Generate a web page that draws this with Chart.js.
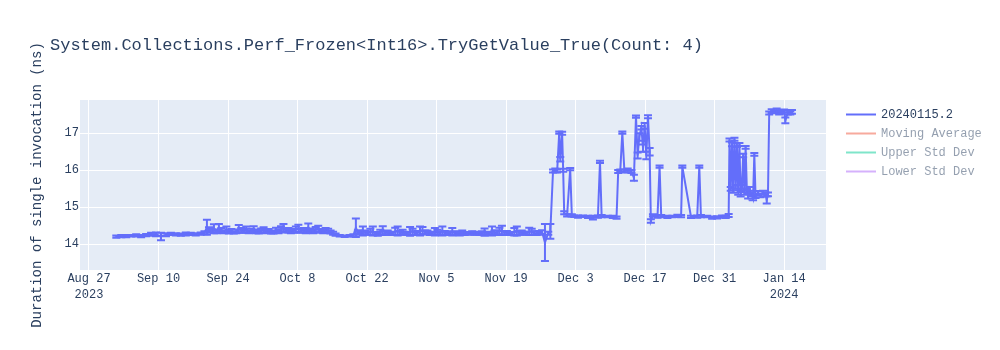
<!DOCTYPE html>
<html>
<head>
<meta charset="utf-8">
<script src="https://cdn.jsdelivr.net/npm/chart.js@4.4.1/dist/chart.umd.min.js"></script>
<style>
  html, body { margin: 0; padding: 0; background: #ffffff; }
  canvas { display: block; }
</style>
</head>
<body>
<canvas id="perfChart" width="1000" height="350"></canvas>
<script>
// ---- chart text ----
const chartTitle = 'System.Collections.Perf_Frozen<Int16>.TryGetValue_True(Count: 4)';
const yAxisTitle = 'Duration of single invocation (ns)';
const seriesNames = ['20240115.2', 'Moving Average', 'Upper Std Dev', 'Lower Std Dev'];
const seriesColors = ['#636efa', '#ef553b', '#00cc96', '#ab63fa'];

// ---- measurements: run time, mean duration (ns), error (ns) ----
const runDates = [
  // Sep 1 - Sep 19
  '2023-09-01T12:00','2023-09-02T12:00','2023-09-03T12:00','2023-09-04T12:00','2023-09-05T12:00',
  '2023-09-06T12:00','2023-09-07T12:00','2023-09-08T12:00','2023-09-09T12:00','2023-09-10T12:00',
  '2023-09-11T12:00','2023-09-12T12:00','2023-09-13T12:00','2023-09-14T12:00','2023-09-15T12:00',
  '2023-09-16T12:00','2023-09-17T12:00','2023-09-18T12:00','2023-09-19T06:00','2023-09-19T18:00',
  // Sep 20 - Oct 15
  '2023-09-20T04:00','2023-09-20T16:00','2023-09-21T04:00','2023-09-21T16:00','2023-09-22T04:00',
  '2023-09-22T16:00','2023-09-23T04:00','2023-09-23T16:00','2023-09-24T04:00','2023-09-24T16:00',
  '2023-09-25T04:00','2023-09-25T16:00','2023-09-26T04:00','2023-09-26T16:00','2023-09-27T04:00',
  '2023-09-27T16:00','2023-09-28T04:00','2023-09-28T16:00','2023-09-29T04:00','2023-09-29T16:00',
  '2023-09-30T04:00','2023-09-30T16:00','2023-10-01T04:00','2023-10-01T16:00','2023-10-02T04:00',
  '2023-10-02T16:00','2023-10-03T04:00','2023-10-03T16:00','2023-10-04T04:00','2023-10-04T16:00',
  '2023-10-05T04:00','2023-10-05T16:00','2023-10-06T04:00','2023-10-06T16:00','2023-10-07T04:00',
  '2023-10-07T16:00','2023-10-08T04:00','2023-10-08T16:00','2023-10-09T04:00','2023-10-09T16:00',
  '2023-10-10T04:00','2023-10-10T16:00','2023-10-11T04:00','2023-10-11T16:00','2023-10-12T04:00',
  '2023-10-12T16:00','2023-10-13T04:00','2023-10-13T16:00','2023-10-14T04:00','2023-10-14T16:00',
  '2023-10-15T04:00','2023-10-15T16:00',
  // Oct 16 - Oct 19
  '2023-10-16T12:00','2023-10-17T12:00','2023-10-18T12:00','2023-10-19T06:00','2023-10-19T18:00',
  // Oct 20 - Nov 25
  '2023-10-20T04:00','2023-10-20T16:00','2023-10-21T04:00','2023-10-21T16:00','2023-10-22T04:00',
  '2023-10-22T16:00','2023-10-23T04:00','2023-10-23T16:00','2023-10-24T04:00','2023-10-24T16:00',
  '2023-10-25T04:00','2023-10-25T16:00','2023-10-26T04:00','2023-10-26T16:00','2023-10-27T04:00',
  '2023-10-27T16:00','2023-10-28T04:00','2023-10-28T16:00','2023-10-29T04:00','2023-10-29T16:00',
  '2023-10-30T04:00','2023-10-30T16:00','2023-10-31T04:00','2023-10-31T16:00','2023-11-01T04:00',
  '2023-11-01T16:00','2023-11-02T04:00','2023-11-02T16:00','2023-11-03T04:00','2023-11-03T16:00',
  '2023-11-04T04:00','2023-11-04T16:00','2023-11-05T04:00','2023-11-05T16:00','2023-11-06T04:00',
  '2023-11-06T16:00','2023-11-07T04:00','2023-11-07T16:00','2023-11-08T04:00','2023-11-08T16:00',
  '2023-11-09T04:00','2023-11-09T16:00','2023-11-10T04:00','2023-11-10T16:00','2023-11-11T04:00',
  '2023-11-11T16:00','2023-11-12T04:00','2023-11-12T16:00','2023-11-13T04:00','2023-11-13T16:00',
  '2023-11-14T04:00','2023-11-14T16:00','2023-11-15T04:00','2023-11-15T16:00','2023-11-16T04:00',
  '2023-11-16T16:00','2023-11-17T04:00','2023-11-17T16:00','2023-11-18T04:00','2023-11-18T16:00',
  '2023-11-19T04:00','2023-11-19T16:00','2023-11-20T04:00','2023-11-20T16:00','2023-11-21T04:00',
  '2023-11-21T16:00','2023-11-22T04:00','2023-11-22T16:00','2023-11-23T04:00','2023-11-23T16:00',
  '2023-11-24T04:00','2023-11-24T16:00','2023-11-25T04:00','2023-11-25T16:00',
  // Nov 26 - Jan 15
  '2023-11-26T06:00','2023-11-26T20:00','2023-11-27T12:00','2023-11-27T22:00',
  '2023-11-28T11:00','2023-11-28T22:00','2023-11-29T07:00','2023-11-29T17:00','2023-11-29T22:00',
  '2023-11-30T07:00','2023-11-30T12:00','2023-11-30T17:00','2023-12-01T07:00','2023-12-01T22:00',
  '2023-12-02T06:00','2023-12-02T18:00','2023-12-03T12:00','2023-12-04T12:00','2023-12-05T12:00',
  '2023-12-06T12:00','2023-12-07T12:00','2023-12-07T22:00','2023-12-08T06:00','2023-12-09T12:00',
  '2023-12-10T12:00','2023-12-11T06:00','2023-12-11T14:00','2023-12-12T00:00','2023-12-12T10:00',
  '2023-12-12T20:00','2023-12-13T12:00','2023-12-14T06:00','2023-12-14T18:00','2023-12-15T04:00',
  '2023-12-15T12:00','2023-12-15T20:00','2023-12-16T06:00','2023-12-16T14:00','2023-12-16T22:00',
  '2023-12-17T06:00','2023-12-17T14:00','2023-12-17T22:00','2023-12-18T04:00','2023-12-18T14:00',
  '2023-12-19T12:00','2023-12-19T22:00','2023-12-20T06:00','2023-12-21T12:00','2023-12-22T12:00',
  '2023-12-23T12:00','2023-12-24T06:00','2023-12-24T12:00','2023-12-26T06:00','2023-12-27T12:00',
  '2023-12-27T22:00','2023-12-28T06:00','2023-12-29T12:00','2023-12-30T12:00','2023-12-31T12:00',
  '2024-01-01T12:00','2024-01-02T06:00','2024-01-02T20:00','2024-01-03T00:00','2024-01-03T06:00',
  '2024-01-03T12:00','2024-01-03T18:00','2024-01-04T00:00','2024-01-04T06:00','2024-01-04T12:00',
  '2024-01-04T18:00','2024-01-05T00:00','2024-01-05T06:00','2024-01-05T12:00','2024-01-05T18:00',
  '2024-01-06T00:00','2024-01-06T06:00','2024-01-06T12:00','2024-01-06T18:00','2024-01-07T00:00',
  '2024-01-07T12:00','2024-01-07T18:00','2024-01-08T00:00','2024-01-08T06:00','2024-01-08T18:00',
  '2024-01-09T06:00','2024-01-09T18:00','2024-01-10T06:00','2024-01-10T12:00','2024-01-10T18:00',
  '2024-01-11T00:00','2024-01-11T12:00','2024-01-12T00:00','2024-01-12T12:00','2024-01-13T00:00',
  '2024-01-13T12:00','2024-01-14T00:00','2024-01-14T06:00','2024-01-14T18:00','2024-01-15T06:00',
  '2024-01-15T14:00'
];
const runValues = [
  // Sep 1 - Sep 19
  14.21, 14.22, 14.22, 14.23, 14.24, 14.22, 14.25, 14.27, 14.27, 14.21,
  14.26, 14.28, 14.27, 14.26, 14.28, 14.28, 14.27, 14.29, 14.31, 14.46,
  // Sep 20 - Oct 15
  14.40, 14.36, 14.42, 14.35, 14.45, 14.38, 14.34, 14.40, 14.33, 14.36,
  14.32, 14.35, 14.42, 14.38, 14.36, 14.40, 14.34, 14.37, 14.41, 14.35,
  14.33, 14.37, 14.39, 14.34, 14.36, 14.33, 14.32, 14.38, 14.35, 14.41,
  14.45, 14.37, 14.38, 14.34, 14.36, 14.40, 14.43, 14.36, 14.38, 14.35,
  14.46, 14.37, 14.35, 14.40, 14.42, 14.36, 14.34, 14.38, 14.37, 14.33,
  14.30, 14.26,
  // Oct 16 - Oct 19
  14.23, 14.22, 14.23, 14.24, 14.45,
  // Oct 20 - Nov 25
  14.33, 14.30, 14.36, 14.32, 14.30, 14.34, 14.36, 14.29, 14.28, 14.33,
  14.37, 14.31, 14.32, 14.29, 14.30, 14.35, 14.36, 14.31, 14.33, 14.30,
  14.29, 14.35, 14.34, 14.30, 14.31, 14.36, 14.37, 14.32, 14.32, 14.29,
  14.30, 14.34, 14.33, 14.30, 14.36, 14.31, 14.31, 14.29, 14.34, 14.30,
  14.30, 14.28, 14.32, 14.29, 14.30, 14.29, 14.31, 14.30, 14.29, 14.28,
  14.31, 14.33, 14.30, 14.29, 14.36, 14.32, 14.32, 14.35, 14.38, 14.31,
  14.31, 14.29, 14.29, 14.34, 14.36, 14.31, 14.32, 14.30, 14.30, 14.35,
  14.34, 14.30, 14.30, 14.31,
  // Nov 26 - Jan 15
  14.33, 14.05, 14.30, 14.35,
  15.98, 16.00, 15.98, 17.02, 16.30, 17.00, 16.00, 14.85, 14.78, 16.03,
  14.78, 14.76, 14.75, 14.76, 14.74, 14.72, 14.75, 16.23, 14.76, 14.75,
  14.74, 14.72, 15.97, 15.99, 17.02, 15.98, 16.00, 15.97, 15.80, 17.45,
  16.40, 16.90, 17.15, 16.60, 17.20, 16.40, 17.45, 16.50, 14.63, 14.78,
  14.75, 16.10, 14.76, 14.74, 14.75, 14.77, 14.76, 16.10, 14.74, 14.75,
  16.10, 14.76, 14.75, 14.72, 14.73, 14.75, 14.74, 14.78, 16.82, 15.50,
  16.70, 15.45, 16.84, 15.55, 16.68, 15.40, 16.70, 15.35, 15.55, 16.40,
  15.40, 16.62, 15.45, 15.30, 15.50, 15.35, 15.25, 16.43, 15.30, 15.38,
  15.32, 15.40, 15.35, 15.20, 15.35, 17.55, 17.60, 17.58, 17.62, 17.55,
  17.58, 17.60, 17.35, 17.56, 17.55, 17.58
];
const runErrors = [
  // Sep 1 - Sep 19
  0.03, 0.03, 0.03, 0.02, 0.03, 0.03, 0.03, 0.04, 0.05, 0.10,
  0.04, 0.03, 0.03, 0.03, 0.04, 0.03, 0.03, 0.03, 0.04, 0.20,
  // Sep 20 - Oct 15
  0.06, 0.05, 0.12, 0.05, 0.10, 0.06, 0.04, 0.08, 0.04, 0.05,
  0.03, 0.05, 0.10, 0.06, 0.05, 0.08, 0.04, 0.05, 0.08, 0.05,
  0.04, 0.06, 0.07, 0.04, 0.05, 0.04, 0.03, 0.07, 0.05, 0.08,
  0.10, 0.05, 0.06, 0.04, 0.05, 0.08, 0.10, 0.05, 0.06, 0.05,
  0.10, 0.06, 0.05, 0.07, 0.08, 0.05, 0.04, 0.06, 0.05, 0.04,
  0.04, 0.03,
  // Oct 16 - Oct 19
  0.02, 0.02, 0.02, 0.03, 0.25,
  // Oct 20 - Nov 25
  0.05, 0.04, 0.12, 0.05, 0.04, 0.08, 0.12, 0.04, 0.05, 0.06,
  0.12, 0.05, 0.05, 0.04, 0.04, 0.10, 0.12, 0.05, 0.06, 0.04,
  0.04, 0.12, 0.08, 0.05, 0.05, 0.12, 0.10, 0.05, 0.05, 0.04,
  0.04, 0.10, 0.06, 0.05, 0.12, 0.05, 0.04, 0.04, 0.10, 0.05,
  0.04, 0.04, 0.05, 0.04, 0.03, 0.03, 0.04, 0.04, 0.03, 0.03,
  0.04, 0.10, 0.04, 0.04, 0.12, 0.05, 0.05, 0.10, 0.12, 0.05,
  0.05, 0.04, 0.04, 0.10, 0.12, 0.05, 0.05, 0.04, 0.04, 0.10,
  0.08, 0.05, 0.05, 0.05,
  // Nov 26 - Jan 15
  0.05, 0.50, 0.04, 0.20,
  0.04, 0.05, 0.04, 0.03, 0.06, 0.04, 0.04, 0.04, 0.03, 0.03,
  0.03, 0.02, 0.03, 0.02, 0.03, 0.05, 0.03, 0.03, 0.03, 0.02,
  0.03, 0.03, 0.04, 0.03, 0.03, 0.04, 0.05, 0.04, 0.08, 0.03,
  0.08, 0.10, 0.05, 0.10, 0.08, 0.10, 0.04, 0.10, 0.05, 0.03,
  0.03, 0.03, 0.03, 0.03, 0.02, 0.03, 0.03, 0.03, 0.03, 0.03,
  0.03, 0.03, 0.02, 0.03, 0.03, 0.03, 0.03, 0.04, 0.04, 0.05,
  0.05, 0.06, 0.04, 0.05, 0.05, 0.06, 0.04, 0.06, 0.05, 0.05,
  0.06, 0.04, 0.05, 0.06, 0.05, 0.05, 0.06, 0.04, 0.05, 0.06,
  0.05, 0.05, 0.05, 0.10, 0.05, 0.04, 0.05, 0.04, 0.05, 0.04,
  0.05, 0.04, 0.08, 0.05, 0.04, 0.05
];

// ---- axes ----
const xTickDates = ['2023-08-27', '2023-09-10', '2023-09-24', '2023-10-08', '2023-10-22', '2023-11-05',
                    '2023-11-19', '2023-12-03', '2023-12-17', '2023-12-31', '2024-01-14'];
const xRange = ['2023-08-25T04:30', '2024-01-22T10:30'];
const yTickValues = [14, 15, 16, 17];
const yRange = [13.305, 17.9];

const monthNames = ['Jan','Feb','Mar','Apr','May','Jun','Jul','Aug','Sep','Oct','Nov','Dec'];
const textColor = '#2a3f5f';
const fontFamily = "'Liberation Mono', 'DejaVu Sans Mono', monospace";

function toTime(s) {
  return new Date(s.length === 10 ? s + 'T00:00' : s).getTime();
}

function tickLabel(value, index) {
  const d = new Date(value);
  const line = monthNames[d.getMonth()] + ' ' + d.getDate();
  const prev = index > 0 ? new Date(toTime(xTickDates[index - 1])) : null;
  if (!prev || prev.getFullYear() !== d.getFullYear()) {
    return [line, String(d.getFullYear())];
  }
  return line;
}

// plot background
const plotBackground = {
  id: 'plotBackground',
  beforeDraw(chart) {
    const { ctx, chartArea: a } = chart;
    ctx.save();
    ctx.fillStyle = '#e5ecf6';
    ctx.fillRect(a.left, a.top, a.right - a.left, a.bottom - a.top);
    ctx.restore();
  }
};

// vertical error bars with caps for the measured series
const errorBars = {
  id: 'errorBars',
  afterDatasetsDraw(chart) {
    const { ctx, chartArea: a, scales: { x, y } } = chart;
    const ds = chart.data.datasets[0];
    ctx.save();
    ctx.beginPath();
    ctx.rect(a.left, a.top, a.right - a.left, a.bottom - a.top);
    ctx.clip();
    ctx.strokeStyle = ds.borderColor;
    ctx.lineWidth = 2;
    ds.data.forEach((p, i) => {
      const err = runErrors[i] || 0;
      const px = x.getPixelForValue(p.x);
      const hi = y.getPixelForValue(p.y + err);
      const lo = y.getPixelForValue(p.y - err);
      ctx.beginPath();
      ctx.moveTo(px, lo); ctx.lineTo(px, hi);
      ctx.moveTo(px - 4, lo); ctx.lineTo(px + 4, lo);
      ctx.moveTo(px - 4, hi); ctx.lineTo(px + 4, hi);
      ctx.stroke();
    });
    ctx.restore();
  }
};

// heading and legend
const headerAndLegend = {
  id: 'headerAndLegend',
  afterDraw(chart) {
    const { ctx } = chart;
    ctx.save();
    ctx.fillStyle = textColor;
    ctx.font = '17px ' + fontFamily;
    ctx.textBaseline = 'middle';
    ctx.textAlign = 'left';
    ctx.fillText(chartTitle, 50, 45);

    ctx.font = '12px ' + fontFamily;
    chart.data.datasets.forEach((ds, i) => {
      const yc = 114.5 + i * 19;
      ctx.globalAlpha = ds.legendOnly ? 0.5 : 1;
      ctx.strokeStyle = ds.borderColor;
      ctx.lineWidth = 2;
      ctx.beginPath();
      ctx.moveTo(846, yc); ctx.lineTo(876, yc);
      ctx.stroke();
      ctx.fillStyle = textColor;
      ctx.fillText(ds.label, 881, yc);
    });
    ctx.restore();
  }
};

Chart.defaults.font.family = fontFamily;
Chart.defaults.color = textColor;

new Chart(document.getElementById('perfChart'), {
  type: 'line',
  data: {
    datasets: seriesNames.map((name, i) => ({
      label: name,
      data: i === 0 ? runDates.map((d, k) => ({ x: toTime(d), y: runValues[k] })) : [],
      borderColor: seriesColors[i],
      backgroundColor: seriesColors[i],
      borderWidth: 2,
      pointRadius: 0,
      tension: 0,
      fill: false,
      legendOnly: i > 0
    }))
  },
  options: {
    responsive: false,
    animation: false,
    layout: { padding: { left: 24, top: 100, right: 174, bottom: 0 } },
    plugins: {
      legend: { display: false },
      title: { display: false },
      tooltip: { enabled: false }
    },
    scales: {
      x: {
        type: 'linear',
        min: toTime(xRange[0]),
        max: toTime(xRange[1]),
        afterBuildTicks(scale) {
          scale.ticks = xTickDates.map(d => ({ value: toTime(d) }));
        },
        afterFit(scale) { scale.height = 80; },
        grid: { color: '#ffffff', lineWidth: 1, drawTicks: false },
        border: { display: false },
        ticks: {
          autoSkip: false,
          maxRotation: 0,
          padding: 1,
          color: textColor,
          font: { size: 12, lineHeight: 1.35 },
          callback: tickLabel
        }
      },
      y: {
        min: yRange[0],
        max: yRange[1],
        afterBuildTicks(scale) {
          scale.ticks = yTickValues.map(v => ({ value: v }));
        },
        afterFit(scale) { scale.width = 56; },
        grid: { color: '#ffffff', lineWidth: 1, drawTicks: false },
        border: { display: false },
        ticks: { padding: 1, color: textColor, font: { size: 12 } },
        title: {
          display: true,
          text: yAxisTitle,
          color: textColor,
          font: { size: 14 },
          padding: { top: 5, bottom: 0 }
        }
      }
    }
  },
  plugins: [plotBackground, errorBars, headerAndLegend]
});
</script>
</body>
</html>
